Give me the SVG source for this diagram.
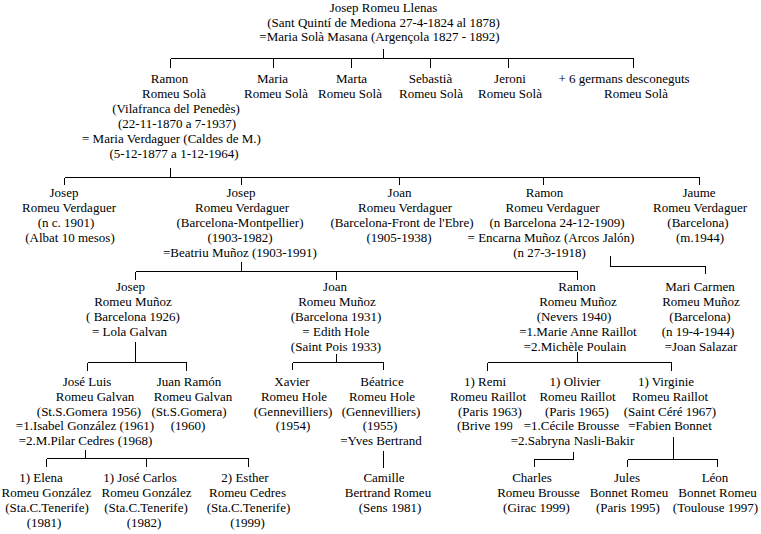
<svg xmlns="http://www.w3.org/2000/svg" width="761" height="534" viewBox="0 0 761 534">
<style>
text{font-family:"Liberation Serif","Times New Roman",serif;font-size:13px;fill:#000;text-anchor:middle}
.s{text-anchor:start}
#connectors path{fill:none;stroke:#000;stroke-width:1;shape-rendering:crispEdges}
</style>
<defs>
<clipPath id="briveClip"><rect x="440" y="410" width="72.5" height="25"/></clipPath>
</defs>
<rect width="761" height="534" fill="#fff"/>
<g id="connectors">
<path d="M383.5 49V58.5M170.5 58.5H633.5M170.5 58.5V68M273.5 58.5V68M351.5 58.5V68M430.5 58.5V68M508.5 58.5V68M633.5 58.5V68"/>
<path d="M170.5 168V177.5M64.5 177.5H699.5M64.5 177.5V185M241.5 177.5V185M399.5 177.5V185M543.5 177.5V185M699.5 177.5V185"/>
<path d="M241.5 262V271.5M135.5 271.5H577.5M135.5 271.5V280M336.5 271.5V280M577.5 271.5V280"/>
<path d="M610.5 256V266.5H705.5V274"/>
<path d="M135.5 342V362.5M87.5 362.5H186.5M87.5 362.5V371M186.5 362.5V371"/>
<path d="M336.5 354V362.5M292.5 362.5H383.5M292.5 362.5V370M383.5 362.5V370"/>
<path d="M577.5 352V362.5M487.5 362.5H671.5M487.5 362.5V371M671.5 362.5V371"/>
<path d="M85.5 450V458.5M46.5 458.5H248.5M46.5 458.5V467M146.5 458.5V467M248.5 458.5V467"/>
<path d="M383.5 451V468"/>
<path d="M573.5 452V459.5H534.5V467"/>
<path d="M673.5 437V459.5M627.5 459.5H717.5M627.5 459.5V467M717.5 459.5V467"/>
</g>
<g id="josep-romeu-llenas">
<text x="383.5" y="12">Josep Romeu Llenas</text>
<text x="383.5" y="26.5">(Sant Quintí de Mediona 27-4-1824 al 1878)</text>
<text x="379.5" y="41">=Maria Solà Masana (Argençola 1827 - 1892)</text>
</g>
<g id="ramon-romeu-sola">
<text x="169.5" y="83">Ramon</text>
<text x="174" y="98">Romeu Solà</text>
<text x="176" y="113">(Vilafranca del Penedès)</text>
<text x="177" y="128">(22-11-1870 a 7-1937)</text>
<text x="171.5" y="143">= Maria Verdaguer (Caldes de M.)</text>
<text x="174" y="158">(5-12-1877 a 1-12-1964)</text>
</g>
<g id="maria-romeu-sola">
<text x="272.5" y="83">Maria</text>
<text x="276" y="98">Romeu Solà</text>
</g>
<g id="marta-romeu-sola">
<text x="351.5" y="83">Marta</text>
<text x="350" y="98">Romeu Solà</text>
</g>
<g id="sebastia-romeu-sola">
<text x="430.5" y="83">Sebastià</text>
<text x="431" y="98">Romeu Solà</text>
</g>
<g id="jeroni-romeu-sola">
<text x="510" y="83">Jeroni</text>
<text x="510" y="98">Romeu Solà</text>
</g>
<g id="germans-desconeguts">
<text x="624" y="83">+ 6 germans desconeguts</text>
<text x="636" y="98">Romeu Solà</text>
</g>
<g id="josep-romeu-verdaguer-1901">
<text x="64" y="197">Josep</text>
<text x="69" y="212">Romeu Verdaguer</text>
<text x="66" y="227">(n c. 1901)</text>
<text x="70" y="242">(Albat 10 mesos)</text>
</g>
<g id="josep-romeu-verdaguer-1903">
<text x="241" y="197">Josep</text>
<text x="242" y="212">Romeu Verdaguer</text>
<text x="240" y="227">(Barcelona-Montpellier)</text>
<text x="240" y="242">(1903-1982)</text>
<text x="240" y="257">=Beatriu Muñoz (1903-1991)</text>
</g>
<g id="joan-romeu-verdaguer">
<text x="399.5" y="197">Joan</text>
<text x="405" y="212">Romeu Verdaguer</text>
<text x="402" y="227">(Barcelona-Front de l'Ebre)</text>
<text x="399" y="242">(1905-1938)</text>
</g>
<g id="ramon-romeu-verdaguer">
<text x="544.5" y="197">Ramon</text>
<text x="552.5" y="212">Romeu Verdaguer</text>
<text x="557" y="227">(n Barcelona 24-12-1909)</text>
<text x="551" y="242">= Encarna Muñoz (Arcos Jalón)</text>
<text x="549.5" y="257">(n 27-3-1918)</text>
</g>
<g id="jaume-romeu-verdaguer">
<text x="699" y="197">Jaume</text>
<text x="700" y="212">Romeu Verdaguer</text>
<text x="698" y="227">(Barcelona)</text>
<text x="700" y="242">(m.1944)</text>
</g>
<g id="josep-romeu-munoz">
<text x="130.5" y="290.5">Josep</text>
<text x="133" y="305.5">Romeu Muñoz</text>
<text x="133" y="320.5">( Barcelona 1926)</text>
<text x="129.5" y="335.5">= Lola Galvan</text>
</g>
<g id="joan-romeu-munoz">
<text x="335" y="290.5">Joan</text>
<text x="337" y="305.5">Romeu Muñoz</text>
<text x="336" y="320.5">(Barcelona 1931)</text>
<text x="336" y="335.5">= Edith Hole</text>
<text x="336" y="350.5">(Saint Pois 1933)</text>
</g>
<g id="ramon-romeu-munoz">
<text x="577" y="290.5">Ramon</text>
<text x="578" y="305.5">Romeu Muñoz</text>
<text x="574" y="320.5">(Nevers 1940)</text>
<text x="578" y="335.5">=1.Marie Anne Raillot</text>
<text x="575" y="350.5">=2.Michèle Poulain</text>
</g>
<g id="mari-carmen-romeu-munoz">
<text x="700" y="290.5">Mari Carmen</text>
<text x="701" y="305.5">Romeu Muñoz</text>
<text x="700" y="320.5">(Barcelona)</text>
<text x="698" y="335.5">(n 19-4-1944)</text>
<text x="701" y="350.5">=Joan Salazar</text>
</g>
<g id="jose-luis-romeu-galvan">
<text x="87" y="386">José Luis</text>
<text x="95" y="400.8">Romeu Galvan</text>
<text x="89" y="415.5">(St.S.Gomera 1956)</text>
<text x="85" y="430.3">=1.Isabel González (1961)</text>
<text x="85.5" y="445">=2.M.Pilar Cedres (1968)</text>
</g>
<g id="juan-ramon-romeu-galvan">
<text x="189" y="386">Juan Ramón</text>
<text x="193" y="400.8">Romeu Galvan</text>
<text x="189" y="415.5">(St.S.Gomera)</text>
<text x="188" y="430.3">(1960)</text>
</g>
<g id="xavier-romeu-hole">
<text x="292" y="386">Xavier</text>
<text x="294" y="400.8">Romeu Hole</text>
<text x="293" y="415.5">(Gennevilliers)</text>
<text x="293" y="430.3">(1954)</text>
</g>
<g id="beatrice-romeu-hole">
<text x="382" y="386">Béatrice</text>
<text x="382" y="400.8">Romeu Hole</text>
<text x="381" y="415.5">(Gennevilliers)</text>
<text x="380" y="430.3">(1955)</text>
<text x="381" y="445">=Yves Bertrand</text>
</g>
<g id="remi-romeu-raillot">
<text x="485" y="386">1) Remi</text>
<text x="488" y="400.8">Romeu Raillot</text>
<text x="490" y="415.5">(Paris 1963)</text>
<text class="s" x="457" y="430.3" clip-path="url(#briveClip)">(Brive 1994)</text>
</g>
<g id="olivier-romeu-raillot">
<text x="575" y="386">1) Olivier</text>
<text x="577.5" y="400.8">Romeu Raillot</text>
<text x="577" y="415.5">(Paris 1965)</text>
<text x="571.5" y="430.3">=1.Cécile Brousse</text>
<text x="572.5" y="445">=2.Sabryna Nasli-Bakir</text>
</g>
<g id="virginie-romeu-raillot">
<text x="666" y="386">1) Virginie</text>
<text x="670" y="400.8">Romeu Raillot</text>
<text x="670" y="415.5">(Saint Céré 1967)</text>
<text x="670" y="430.3">=Fabien Bonnet</text>
</g>
<g id="elena-romeu-gonzalez">
<text x="41" y="482">1) Elena</text>
<text x="46.5" y="497">Romeu González</text>
<text x="47" y="512">(Sta.C.Tenerife)</text>
<text x="44" y="527">(1981)</text>
</g>
<g id="jose-carlos-romeu-gonzalez">
<text x="140" y="482">1) José Carlos</text>
<text x="146.5" y="497">Romeu González</text>
<text x="146" y="512">(Sta.C.Tenerife)</text>
<text x="144" y="527">(1982)</text>
</g>
<g id="esther-romeu-cedres">
<text x="245" y="482">2) Esther</text>
<text x="247.5" y="497">Romeu Cedres</text>
<text x="248.5" y="512">(Sta.C.Tenerife)</text>
<text x="247.5" y="527">(1999)</text>
</g>
<g id="camille-bertrand-romeu">
<text x="384" y="482">Camille</text>
<text x="388" y="497">Bertrand Romeu</text>
<text x="390" y="512">(Sens 1981)</text>
</g>
<g id="charles-romeu-brousse">
<text x="532" y="482">Charles</text>
<text x="538.5" y="497">Romeu Brousse</text>
<text x="536.5" y="512">(Girac 1999)</text>
</g>
<g id="jules-bonnet-romeu">
<text x="627" y="482">Jules</text>
<text x="629" y="497">Bonnet Romeu</text>
<text x="628" y="512">(Paris 1995)</text>
</g>
<g id="leon-bonnet-romeu">
<text x="715" y="482">Léon</text>
<text x="717.5" y="497">Bonnet Romeu</text>
<text x="715.5" y="512">(Toulouse 1997)</text>
</g>
</svg>
